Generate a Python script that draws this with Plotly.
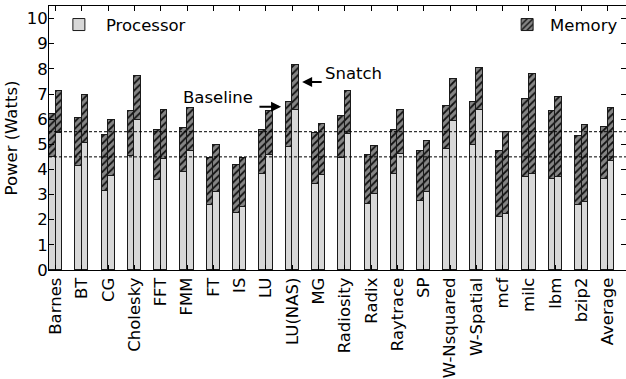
import plotly.graph_objects as go

# Benchmarks on the x axis
benchmarks = ["Barnes", "BT", "CG", "Cholesky", "FFT", "FMM", "FT", "IS", "LU",
              "LU(NAS)", "MG", "Radiosity", "Radix", "Raytrace", "SP",
              "W-Nsquared", "W-Spatial", "mcf", "milc", "lbm", "bzip2", "Average"]

# Baseline configuration: processor power and total (processor + memory), Watts
baseline_processor = [4.49, 4.13, 3.14, 4.53, 3.59, 3.90, 2.58, 2.25, 3.80, 4.88, 3.42,
                      4.44, 2.63, 3.82, 2.74, 4.82, 4.97, 2.12, 3.68, 3.60, 2.59, 3.63]
baseline_total = [6.19, 6.03, 5.38, 6.32, 5.57, 5.63, 4.44, 4.17, 5.55, 6.70, 5.43,
                  6.14, 4.58, 5.55, 4.75, 6.54, 6.67, 4.73, 6.81, 6.32, 5.31, 5.67]

# Snatch configuration: processor power and total (processor + memory), Watts
snatch_processor = [5.43, 5.05, 3.74, 5.97, 4.40, 4.74, 3.11, 2.51, 4.57, 6.37, 3.77,
                    5.42, 3.01, 4.62, 3.11, 5.92, 6.36, 2.24, 3.82, 3.70, 2.71, 4.32]
snatch_total = [7.13, 6.95, 5.96, 7.73, 6.37, 6.45, 4.97, 4.44, 6.31, 8.17, 5.81,
                7.13, 4.95, 6.35, 5.13, 7.60, 8.05, 5.48, 7.81, 6.87, 5.75, 6.45]

# Reference power levels drawn as dashed lines
reference_levels = [4.5, 5.5]

y_ticks = list(range(0, 11))

baseline_memory = [t - p for t, p in zip(baseline_total, baseline_processor)]
snatch_memory = [t - p for t, p in zip(snatch_total, snatch_processor)]

BAR_W = 0.25
n = len(benchmarks)
x_base = [i + BAR_W / 2 for i in range(n)]
x_snatch = [i + 1.5 * BAR_W for i in range(n)]
x_centers = [i + BAR_W for i in range(n)]

FONT = "DejaVu Sans"
PROC_COLOR = "#d8d8d8"
MEM_BG = "#858585"
EDGE = dict(color="#1a1a1a", width=1)
mem_pattern = dict(shape="/", fgcolor="#111111", bgcolor=MEM_BG,
                   size=5, solidity=0.35, fillmode="replace")

fig = go.Figure()

fig.add_trace(go.Bar(x=x_base, y=baseline_processor, width=BAR_W, name="Processor",
                     marker=dict(color=PROC_COLOR, line=EDGE),
                     legendgroup="proc", legend="legend", showlegend=True))
fig.add_trace(go.Bar(x=x_base, y=baseline_memory, width=BAR_W, name="Memory",
                     marker=dict(color=MEM_BG, line=EDGE, pattern=mem_pattern),
                     legendgroup="mem", legend="legend2", showlegend=True))
fig.add_trace(go.Bar(x=x_snatch, y=snatch_processor, width=BAR_W, name="Processor",
                     marker=dict(color=PROC_COLOR, line=EDGE),
                     legendgroup="proc", showlegend=False))
fig.add_trace(go.Bar(x=x_snatch, y=snatch_memory, width=BAR_W, name="Memory",
                     marker=dict(color=MEM_BG, line=EDGE, pattern=mem_pattern),
                     legendgroup="mem", showlegend=False))

for level in reference_levels:
    fig.add_shape(type="line", xref="paper", x0=0, x1=1, yref="y", y0=level, y1=level,
                  line=dict(color="black", width=1, dash="3px,2px"), layer="above")

# Labels with arrows pointing at the two bars of LU(NAS)
lu_idx = benchmarks.index("LU(NAS)")
fig.add_annotation(x=x_base[lu_idx] - 0.3, y=6.49, ax=x_base[lu_idx] - 1.18, ay=6.49,
                   axref="x", ayref="y", text="", showarrow=True,
                   arrowhead=2, arrowsize=1, arrowwidth=2, arrowcolor="black")
fig.add_annotation(x=x_base[lu_idx] - 2.7, y=6.87, text="Baseline", showarrow=False,
                   font=dict(family=FONT, size=16.5, color="black"))
fig.add_annotation(x=x_snatch[lu_idx] + 0.25, y=7.48, ax=x_snatch[lu_idx] + 1.05, ay=7.48,
                   axref="x", ayref="y", text="", showarrow=True,
                   arrowhead=2, arrowsize=1, arrowwidth=2, arrowcolor="black")
fig.add_annotation(x=x_snatch[lu_idx] + 2.2, y=7.83, text="Snatch", showarrow=False,
                   font=dict(family=FONT, size=16.5, color="black"))

fig.update_layout(
    width=626, height=379,
    margin=dict(l=49, r=0, t=6, b=109),
    barmode="stack",
    bargap=0,
    plot_bgcolor="white", paper_bgcolor="white",
    font=dict(family=FONT, size=16, color="black"),
    legend=dict(x=0.005, y=0.995, xanchor="left", yanchor="top",
                bgcolor="rgba(0,0,0,0)", font=dict(size=16.5), itemwidth=44),
    legend2=dict(x=0.995, y=0.995, xanchor="right", yanchor="top",
                 bgcolor="rgba(0,0,0,0)", font=dict(size=16.5), itemwidth=36),
    xaxis=dict(range=[0, 21.94], tickvals=x_centers, ticktext=benchmarks,
               tickangle=-90, ticks="inside", ticklen=5, tickcolor="black",
               showline=True, linecolor="black", linewidth=1, mirror="allticks",
               showgrid=False, zeroline=False, tickfont=dict(size=16.5)),
    yaxis=dict(range=[0, 10.5], tickvals=y_ticks, ticks="inside", ticklen=5,
               tickcolor="black", showline=True, linecolor="black", linewidth=1,
               mirror="allticks", showgrid=False, zeroline=False,
               tickfont=dict(size=16.5), ticklabelstandoff=-3,
               title=dict(text="Power (Watts)", font=dict(size=16.5), standoff=4)),
)

fig.write_html("out.html")
